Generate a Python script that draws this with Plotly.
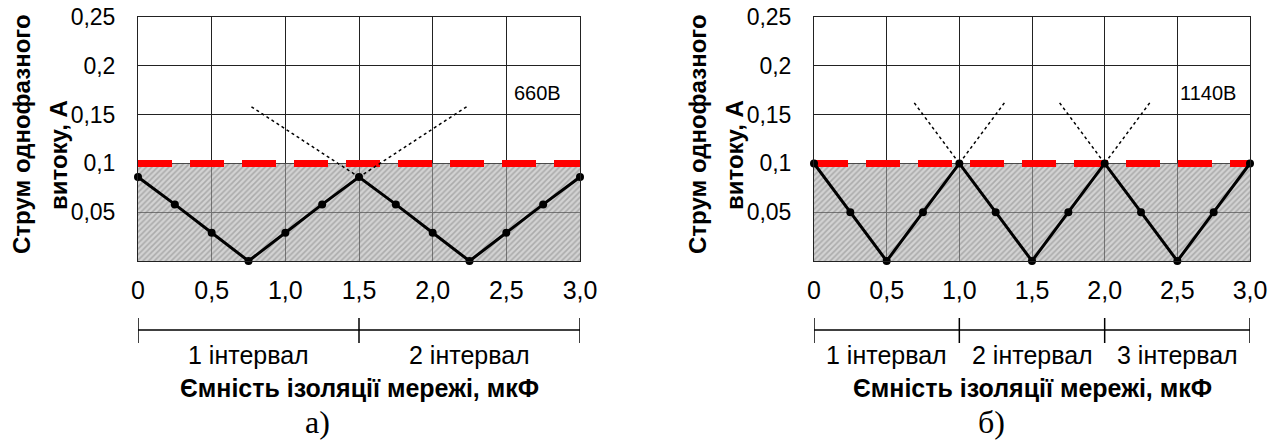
import plotly.graph_objects as go

# ---------------- data ----------------
capacitance = [0, 0.25, 0.5, 0.75, 1.0, 1.25, 1.5, 1.75, 2.0, 2.25, 2.5, 2.75, 3.0]
current_660 = [0.086, 0.058, 0.029, 0.0, 0.029, 0.058, 0.086, 0.058, 0.029, 0.0, 0.029, 0.058, 0.086]
current_1140 = [0.1, 0.05, 0.0, 0.05, 0.1, 0.05, 0.0, 0.05, 0.1, 0.05, 0.0, 0.05, 0.1]
limit_current = 0.1
x_range = [0, 3.0]

dotted_660_x = [[0.77, 1.56], [2.23, 1.44]]
dotted_660_y = [[0.158, 0.080], [0.158, 0.080]]
dotted_1140_x = [[0.69, 1.03], [1.31, 0.97], [1.69, 2.03], [2.31, 1.97]]
dotted_1140_y = [[0.162, 0.094], [0.162, 0.094], [0.162, 0.094], [0.162, 0.094]]

x_ticks = [0, 0.5, 1.0, 1.5, 2.0, 2.5, 3.0]
x_tick_text = ["0", "0,5", "1,0", "1,5", "2,0", "2,5", "3,0"]
y_ticks = [0.05, 0.1, 0.15, 0.2, 0.25]
y_tick_text = ["0,05", "0,1", "0,15", "0,2", "0,25"]

intervals_660 = [0, 1.5, 3.0]
intervals_1140 = [0, 1.0, 2.0, 3.0]
interval_labels_660 = ["1 інтервал", "2 інтервал"]
interval_labels_1140 = ["1 інтервал", "2 інтервал", "3 інтервал"]

voltage_labels = ["660В", "1140В"]
panel_labels = ["а)", "б)"]
y_title_lines = ["Струм однофазного", "витоку, А"]
x_title = "Ємність ізоляції мережі, мкФ"

# ---------------- layout helpers ----------------
W, H = 1279, 443
SANS = "Liberation Sans, Arial, sans-serif"
SERIF = "Liberation Serif, Times New Roman, serif"

panels = [
    dict(xa="x", ya="y", xdom=[138 / W, 580 / W], ydata=current_660,
         dx=dotted_660_x, dy=dotted_660_y, ints=intervals_660, ilab=interval_labels_660,
         volt=voltage_labels[0], vx=2.885, plabel=panel_labels[0]),
    dict(xa="x2", ya="y2", xdom=[814 / W, 1250 / W], ydata=current_1140,
         dx=dotted_1140_x, dy=dotted_1140_y, ints=intervals_1140, ilab=interval_labels_1140,
         volt=voltage_labels[1], vx=2.92, plabel=panel_labels[1]),
]

ydom = [(H - 261) / H, (H - 17) / H]

fig = go.Figure()
shapes = []
annotations = []

for p in panels:
    # shaded permitted zone
    fig.add_trace(go.Scatter(
        x=x_range, y=[limit_current, limit_current], xaxis=p["xa"], yaxis=p["ya"],
        mode="lines", line=dict(width=0), fill="tozeroy",
        fillcolor="rgba(150,150,150,0.5)",
        fillpattern=dict(shape="/", size=4, solidity=0.4,
                         fgcolor="rgba(80,80,80,0.62)", bgcolor="rgba(180,180,180,0.58)"),
        hoverinfo="skip", showlegend=False))
    # red dashed limit line
    fig.add_trace(go.Scatter(
        x=x_range, y=[limit_current, limit_current], xaxis=p["xa"], yaxis=p["ya"],
        mode="lines", line=dict(color="#ff0000", width=7, dash="34px,18px"),
        showlegend=False, cliponaxis=False))
    # dotted extensions
    for sx, sy in zip(p["dx"], p["dy"]):
        fig.add_trace(go.Scatter(
            x=sx, y=sy, xaxis=p["xa"], yaxis=p["ya"], mode="lines",
            line=dict(color="black", width=1.5, dash="dot"), showlegend=False))
    # main curve
    fig.add_trace(go.Scatter(
        x=capacitance, y=p["ydata"], xaxis=p["xa"], yaxis=p["ya"],
        mode="lines+markers", line=dict(color="black", width=3),
        marker=dict(color="black", size=8), showlegend=False, cliponaxis=False))

    # interval bar
    xref = p["xa"]
    bar_y = (H - 330) / H
    t0, t1 = (H - 318) / H, (H - 343) / H
    shapes.append(dict(type="line", xref=xref, yref="paper", x0=p["ints"][0], x1=p["ints"][-1],
                       y0=bar_y, y1=bar_y, line=dict(color="black", width=1.5)))
    for b in p["ints"]:
        shapes.append(dict(type="line", xref=xref, yref="paper", x0=b, x1=b,
                           y0=t0, y1=t1, line=dict(color="black", width=1.5)))
    for i, lab in enumerate(p["ilab"]):
        annotations.append(dict(text=lab, xref=xref, yref="paper",
                                x=(p["ints"][i] + p["ints"][i + 1]) / 2, y=(H - 355) / H,
                                showarrow=False, font=dict(family=SANS, size=25, color="black"),
                                xanchor="center", yanchor="middle"))
    # axis title
    annotations.append(dict(text=x_title, xref=xref, yref="paper", x=1.5, y=(H - 388) / H,
                            showarrow=False, xanchor="center", yanchor="middle",
                            font=dict(family=SANS, size=25, color="black", weight="bold")))
    # panel label
    annotations.append(dict(text=p["plabel"], xref=xref, yref="paper", x=1.22, y=(H - 422) / H,
                            showarrow=False, xanchor="center", yanchor="middle",
                            font=dict(family=SERIF, size=32, color="black")))
    # voltage label
    annotations.append(dict(text=p["volt"], xref=xref, yref=p["ya"], x=p["vx"], y=0.172,
                            showarrow=False, xanchor="right", yanchor="middle",
                            font=dict(family=SANS, size=20, color="black")))
    # y title (two lines)
    left_px = p["xdom"][0] * W
    for dx_px, cy, line in zip([117, 80], [134, 155], y_title_lines):
        annotations.append(dict(text=line, xref="paper", yref="paper",
                                x=(left_px - dx_px) / W, y=(H - cy) / H,
                                showarrow=False, textangle=-90, xanchor="center", yanchor="middle",
                                font=dict(family=SANS, size=24, color="black", weight="bold")))

axis_common_x = dict(range=x_range, tickvals=x_ticks, ticktext=x_tick_text,
                     showgrid=True, gridcolor="#222222", gridwidth=1,
                     showline=True, linecolor="#222222", linewidth=1, mirror=True,
                     ticks="", zeroline=False, ticklabelstandoff=7, automargin=False,
                     tickfont=dict(family=SANS, size=25, color="black"))
axis_common_y = dict(range=[0, 0.25], tickvals=y_ticks, ticktext=y_tick_text,
                     showgrid=True, gridcolor="#222222", gridwidth=1,
                     showline=True, linecolor="#222222", linewidth=1, mirror=True,
                     ticks="", zeroline=False, ticklabelstandoff=17, automargin=False,
                     tickfont=dict(family=SANS, size=23, color="black"))

fig.update_layout(
    width=W, height=H,
    margin=dict(l=0, r=0, t=0, b=0, autoexpand=False),
    paper_bgcolor="white", plot_bgcolor="white",
    showlegend=False,
    xaxis=dict(domain=panels[0]["xdom"], anchor="y", **axis_common_x),
    yaxis=dict(domain=ydom, anchor="x", **axis_common_y),
    xaxis2=dict(domain=panels[1]["xdom"], anchor="y2", **axis_common_x),
    yaxis2=dict(domain=ydom, anchor="x2", **axis_common_y),
    shapes=shapes,
    annotations=annotations,
)

fig.write_html("out.html")
